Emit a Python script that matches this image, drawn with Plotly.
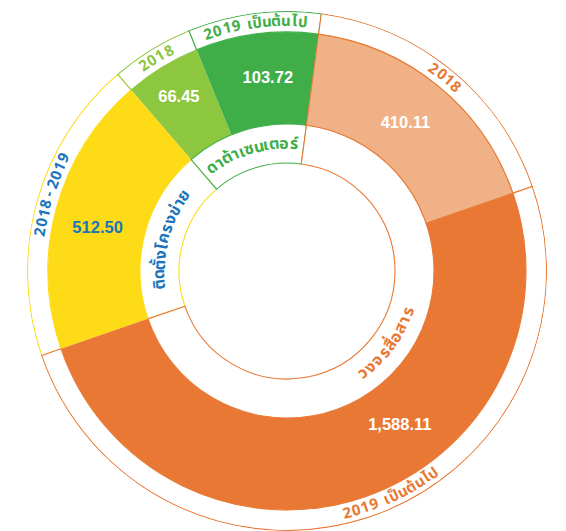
import math
import plotly.graph_objects as go

# ---------------- data ----------------
groups = ["ติดตั้งโครงข่าย", "ดาต้าเซนเตอร์", "วงจรสื่อสาร"]
segment_group = [0, 1, 1, 2, 2]
segment_period = ["2018-2019", "2018", "2019 เป็นต้นไป", "2018", "2019 เป็นต้นไป"]
segment_value = [512.50, 66.45, 103.72, 410.11, 1588.11]
# angular size of each segment as drawn in the infographic (degrees)
segment_arc = [68.3, 18.5, 29.8, 63.4, 180.0]

# ---------------- styles / layout ----------------
W, H = 566, 531
CX, CY = 287, 271          # centre of the rings (pixels)
R_MAX = 260
R_OUT, R_BAND, R_RING_IN, R_INNER = 259.5, 239, 147, 108
START = 251.0              # first segment starts here (deg clockwise from 12 o'clock)

YELLOW, LGREEN, GREEN, LORANGE, ORANGE = "#FDDB17", "#8DC63F", "#3FAE49", "#F1B186", "#E87833"
BLUE = "#1C75BC"
seg_fill = [YELLOW, LGREEN, GREEN, LORANGE, ORANGE]
seg_line = [YELLOW, LGREEN, GREEN, ORANGE, ORANGE]
group_line = [YELLOW, GREEN, ORANGE]
group_text = [BLUE, GREEN, ORANGE]
seg_text = [BLUE, LGREEN, GREEN, ORANGE, ORANGE]
value_color = [BLUE, "white", "white", "white", "white"]
value_label_theta = [282.5, 328.0, 354.3, 38.8, 144.0]
value_label_r = [194, 204, 193, 189, 192]
period_label_theta = [288.0, None, None, None, 155.0]
group_label_theta = [None, None, 126.0]
group_label_dir = [1, 1, -1]
period_label_dir = [1, 1, 1, 1, -1]

NUM_FONT = "Liberation Sans, Arial, sans-serif"
THAI_FONT = "Noto Sans Thai, Noto Sans Thai UI, Loma, Garuda, Tlwg Typo, Noto Sans, sans-serif"

# ---------------- derived geometry ----------------
seg_start = []
a = START
for arc in segment_arc:
    seg_start.append(a)
    a += arc
seg_mid = [s + w / 2 for s, w in zip(seg_start, segment_arc)]

grp_start, grp_arc = [], []
for g in range(len(groups)):
    idx = [i for i, gg in enumerate(segment_group) if gg == g]
    grp_start.append(seg_start[idx[0]])
    grp_arc.append(sum(segment_arc[i] for i in idx))
grp_mid = [s + w / 2 for s, w in zip(grp_start, grp_arc)]

fig = go.Figure()

# coloured ring
fig.add_trace(go.Barpolar(
    theta=seg_mid, width=segment_arc,
    base=[R_RING_IN] * len(segment_value), r=[R_BAND - R_RING_IN] * len(segment_value),
    marker=dict(color=seg_fill, line=dict(color=seg_line, width=[0, 0, 0, 1, 0])),
    hoverinfo="skip", text=segment_period))

# outer band (period labels)
fig.add_trace(go.Barpolar(
    theta=seg_mid, width=segment_arc,
    base=[R_BAND] * len(segment_value), r=[R_OUT - R_BAND] * len(segment_value),
    marker=dict(color="white", line=dict(color=seg_line, width=1.1)),
    hoverinfo="skip"))

# inner band (group labels)
fig.add_trace(go.Barpolar(
    theta=grp_mid, width=grp_arc,
    base=[R_INNER] * len(groups), r=[R_RING_IN - R_INNER] * len(groups),
    marker=dict(color="white", line=dict(color=group_line, width=1.1)),
    hoverinfo="skip"))

# value labels
fig.add_trace(go.Scatterpolar(
    theta=value_label_theta, r=value_label_r, mode="text",
    text=[f"{v:,.2f}" for v in segment_value],
    textfont=dict(family=NUM_FONT, size=16.5, color=value_color, weight="bold"),
    hoverinfo="skip"))

# ---------------- curved text ----------------
COMBINING = set(chr(c) for c in list(range(0x0E31, 0x0E32)) + list(range(0x0E34, 0x0E3B)) + list(range(0x0E47, 0x0E4F)))
EM = {" ": 0.30, "-": 0.70, "เ": 0.34, "แ": 0.62, "โ": 0.40, "ไ": 0.40, "ใ": 0.40,
      "า": 0.50, "ำ": 0.50, "ะ": 0.42}


def clusters(txt):
    out = []
    for ch in txt:
        if ch in COMBINING and out:
            out[-1] += ch
        else:
            out.append(ch)
    return out


def cw(c):
    b = c[0]
    if b in EM:
        return EM[b]
    if b.isdigit():
        return 0.58
    return 0.60


annotations = []


def curved(txt, theta_mid, r, size, color, direction=1, family=THAI_FONT, tracking=0.0):
    cl = clusters(txt)
    widths = [cw(c) * size for c in cl]
    total = sum(widths) + tracking * (len(cl) - 1)
    s = -total / 2
    for c, w in zip(cl, widths):
        centre = s + w / 2
        th = theta_mid + direction * math.degrees(centre / r)
        t = math.radians(th)
        x = CX + r * math.sin(t)
        y = CY - r * math.cos(t)
        ang = th if direction == 1 else th - 180
        ang = (ang + 180) % 360 - 180
        annotations.append(dict(
            text=c, x=x / W, y=1 - y / H, xref="paper", yref="paper",
            showarrow=False, textangle=ang, xanchor="center", yanchor="middle",
            font=dict(family=family, size=size, color=color, weight="bold")))
        s += w + tracking


for i, lab in enumerate(segment_period):
    th = period_label_theta[i] if period_label_theta[i] is not None else seg_mid[i]
    curved(lab, th, 249.5, 15, seg_text[i], period_label_dir[i], tracking=0.8)

for g, lab in enumerate(groups):
    th = group_label_theta[g] if group_label_theta[g] is not None else grp_mid[g]
    curved(lab, th, 127.5, 16, group_text[g], group_label_dir[g], tracking=0.3)

fig.update_layout(
    width=W, height=H, margin=dict(l=0, r=0, t=0, b=0),
    paper_bgcolor="white", plot_bgcolor="white", showlegend=False,
    annotations=annotations,
    polar=dict(
        domain=dict(x=[(CX - R_MAX) / W, (CX + R_MAX) / W],
                    y=[(H - CY - R_MAX) / H, (H - CY + R_MAX) / H]),
        bgcolor="white",
        radialaxis=dict(range=[0, R_MAX], visible=False, showgrid=False, showline=False,
                        showticklabels=False, ticks=""),
        angularaxis=dict(rotation=90, direction="clockwise", visible=False, showgrid=False,
                         showline=False, showticklabels=False, ticks=""),
    ),
)

fig.write_html("out.html", config={"displayModeBar": False},
               post_script="document.body.style.margin='0';document.body.style.overflow='hidden';")
